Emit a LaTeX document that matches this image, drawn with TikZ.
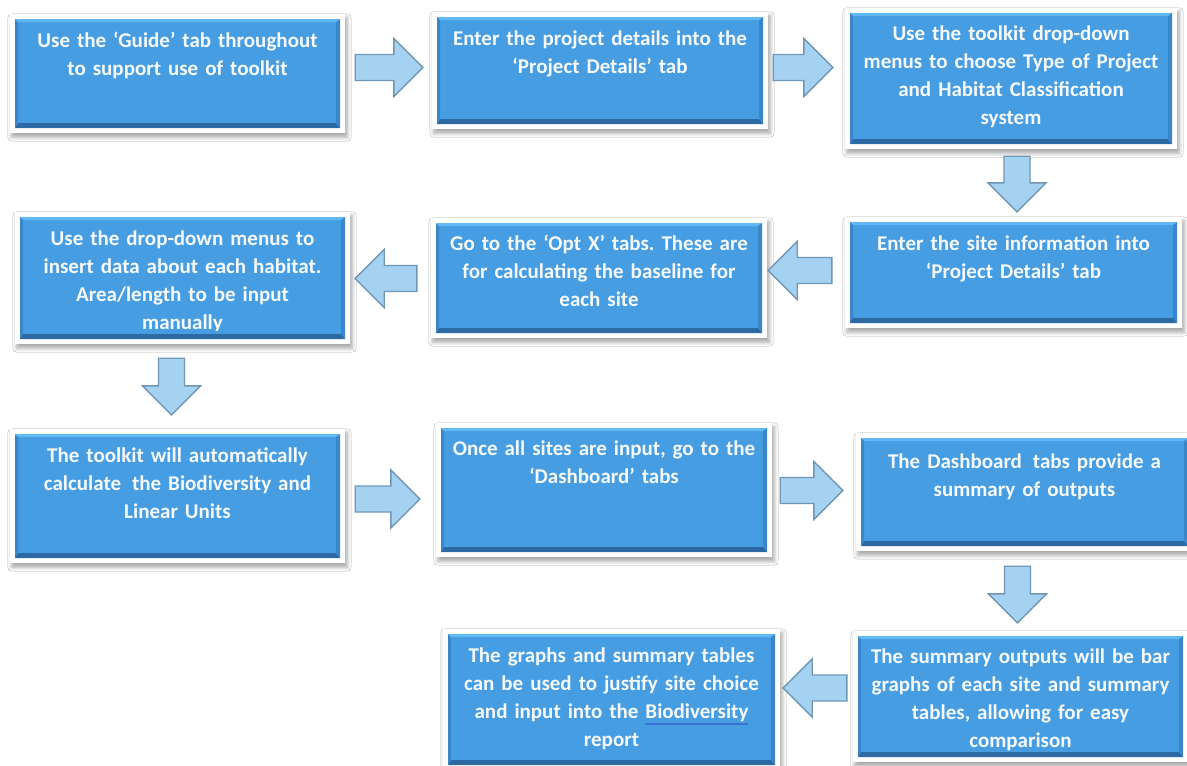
\documentclass[tikz,border=0pt]{standalone}
\usepackage{fontspec}
\setmainfont{Carlito}
\usepackage{calc}
\usetikzlibrary{calc,backgrounds,shadows.blur}
\definecolor{boxblue}{RGB}{71,157,226}
\definecolor{bevdark}{RGB}{45,106,163}
\definecolor{bevmid}{RGB}{58,134,200}
\definecolor{bevlight}{RGB}{96,184,246}
\definecolor{arrowfill}{RGB}{166,210,242}
\definecolor{arrowline}{RGB}{111,151,181}
\definecolor{txtwhite}{RGB}{246,250,253}
\definecolor{ulblue}{RGB}{58,115,214}
\newcommand\spellul[1]{\leavevmode\rlap{\textcolor{ulblue}{\rule[-7pt]{\widthof{#1}}{2pt}}}#1}
\newcommand\blockarrow[3]{%
  \coordinate (#1t) at #2;
  \coordinate (#1p) at #3;
  \coordinate (#1h) at ($(#1p)!29pt!(#1t)$);
  \filldraw[arrowsty] ($(#1t)!13pt!90:(#1p)$) -- ($(#1h)!13pt!-90:(#1t)$) -- ($(#1h)!29pt!-90:(#1t)$) -- (#1p) -- ($(#1h)!29pt!90:(#1t)$) -- ($(#1h)!13pt!90:(#1t)$) -- ($(#1t)!13pt!-90:(#1p)$) -- cycle;}
\tikzset{
  flowbox/.style={rectangle, fill=boxblue, inner sep=0pt,
    path picture={
      \fill[bevdark] (path picture bounding box.south west) -- (path picture bounding box.south east) -- ([shift={(-4pt,5pt)}]path picture bounding box.south east) -- ([shift={(3pt,5pt)}]path picture bounding box.south west) -- cycle;
      \fill[bevmid] (path picture bounding box.south east) -- (path picture bounding box.north east) -- ([shift={(-4pt,-3pt)}]path picture bounding box.north east) -- ([shift={(-4pt,5pt)}]path picture bounding box.south east) -- cycle;
      \fill[bevmid] (path picture bounding box.south west) -- (path picture bounding box.north west) -- ([shift={(3pt,-3pt)}]path picture bounding box.north west) -- ([shift={(3pt,5pt)}]path picture bounding box.south west) -- cycle;
      \fill[bevlight] (path picture bounding box.north west) -- (path picture bounding box.north east) -- ([shift={(-4pt,-3pt)}]path picture bounding box.north east) -- ([shift={(3pt,-3pt)}]path picture bounding box.north west) -- cycle;
    }},
  txt/.style={anchor=north, inner sep=0pt, text width=340pt, align=center, text=txtwhite,
    font=\fontsize{21}{28}\selectfont\bfseries\frenchspacing},
  arrowsty/.style={fill=arrowfill, draw=arrowline, line width=1.4pt, line join=miter},
  frame/.style={fill=white, blur shadow={shadow xshift=2pt, shadow yshift=-4pt, shadow blur radius=4pt, shadow opacity=35}}
}
\begin{document}
\begin{tikzpicture}[x=1pt, y=-1pt]
\useasboundingbox (0,0) rectangle (1187,766);
% boxes
\node[flowbox, minimum width=325pt, minimum height=109pt] (b1) at (177.5,73.5) {};
\node[flowbox, minimum width=326pt, minimum height=107pt] (b2) at (600,70.5) {};
\node[flowbox, minimum width=322pt, minimum height=131pt] (b3) at (1011,78.5) {};
\node[flowbox, minimum width=327pt, minimum height=101pt] (b4) at (1013.5,272.5) {};
\node[flowbox, minimum width=326pt, minimum height=110pt] (b5) at (599,278) {};
\node[flowbox, minimum width=325pt, minimum height=122pt] (b6) at (182.5,278) {};
\node[flowbox, minimum width=325pt, minimum height=124pt] (b7) at (177.5,496) {};
\node[flowbox, minimum width=326pt, minimum height=124pt] (b8) at (604,490) {};
\node[flowbox, minimum width=327pt, minimum height=108pt] (b9) at (1024.5,492) {};
\node[flowbox, minimum width=325pt, minimum height=121pt] (b10) at (1020.5,696.5) {};
\node[flowbox, minimum width=327pt, minimum height=131pt] (b11) at (611.5,699.5) {};
% texts
\node[txt] (t1) at ([yshift=-8.4pt]b1.north) {\strut Use the ‘Guide’ tab throughout\\to support use of toolkit};
\node[txt] (t2) at ([yshift=-8.4pt]b2.north) {\strut Enter the project details into the\\‘Project Details’ tab};
\node[txt] (t3) at ([yshift=-7.4pt]b3.north) {\strut Use the toolkit drop-down\\menus to choose Type of Project\\and Habitat Classification\\system};
\node[txt] (t4) at ([yshift=-8.4pt]b4.north) {\strut Enter the site information into\\‘Project Details’ tab};
\node[txt] (t5) at ([yshift=-7.4pt]b5.north) {\strut Go to the ‘Opt X’ tabs. These are\\for calculating the baseline for\\each site};
\begin{scope}
\clip ([yshift=9pt]b6.south west) rectangle (b6.north east);
\node[txt] (t6) at ([yshift=-8.4pt]b6.north) {\strut Use the drop-down menus to\\insert data about each habitat.\\Area/length to be input\\manually};
\end{scope}
\node[txt] (t7) at ([yshift=-8.4pt]b7.north) {\strut The toolkit will automatically\\calculate\hspace{4pt} the Biodiversity and\\Linear Units};
\node[txt] (t8) at ([yshift=-7.4pt]b8.north) {\strut Once all sites are input, go to the\\‘Dashboard’ tabs};
\node[txt] (t9) at ([yshift=-10.4pt]b9.north) {\strut The Dashboard\hspace{4pt} tabs provide a\\summary of outputs};
\node[txt] (t10) at ([yshift=-7.4pt]b10.north) {\strut The summary outputs will be bar\\graphs of each site and summary\\tables, allowing for easy\\comparison};
\node[txt] (t11) at ([yshift=-8.4pt]b11.north) {\strut The graphs and summary tables\\can be used to justify site choice\\and input into the \spellul{Biodiversity}\\report};
% block arrows
\blockarrow{a1}{([xshift=15pt,yshift=6pt]b1.east)}{([xshift=-14pt,yshift=3pt]b2.west)}
\blockarrow{a2}{([xshift=10pt,yshift=3pt]b2.east)}{([xshift=-17pt,yshift=11pt]b3.west)}
\blockarrow{a3}{([xshift=6pt,yshift=-12pt]b3.south)}{([xshift=3.5pt,yshift=10pt]b4.north)}
\blockarrow{a4}{([xshift=-18pt,yshift=2pt]b4.west)}{([xshift=6pt,yshift=7.5pt]b5.east)}
\blockarrow{a5}{([xshift=-19pt,yshift=-0.5pt]b5.west)}{([xshift=10pt,yshift=-0.5pt]b6.east)}
\blockarrow{a6}{([xshift=-11pt,yshift=-19pt]b6.south)}{([xshift=-6pt,yshift=19pt]b7.north)}
\blockarrow{a7}{([xshift=15pt,yshift=-3pt]b7.east)}{([xshift=-21pt,yshift=-9pt]b8.west)}
\blockarrow{a8}{([xshift=13pt,yshift=-0.5pt]b8.east)}{([xshift=-18pt,yshift=1.5pt]b9.west)}
\blockarrow{a9}{([xshift=-7pt,yshift=-20pt]b9.south)}{([xshift=-3pt,yshift=13pt]b10.north)}
\blockarrow{a10}{([xshift=-11pt,yshift=8.5pt]b10.west)}{([xshift=8pt,yshift=11.5pt]b11.east)}
% frames and background
\begin{pgfonlayer}{background}
\fill[white] (0,0) rectangle (1187,766);
\foreach \b in {b1,b2,b3,b4,b5,b6,b7,b8,b9,b10,b11}{
  \fill[frame] ([shift={(-5pt,5pt)}]\b.north west) rectangle ([shift={(5pt,-5pt)}]\b.south east);
}
\end{pgfonlayer}
\end{tikzpicture}
\end{document}
